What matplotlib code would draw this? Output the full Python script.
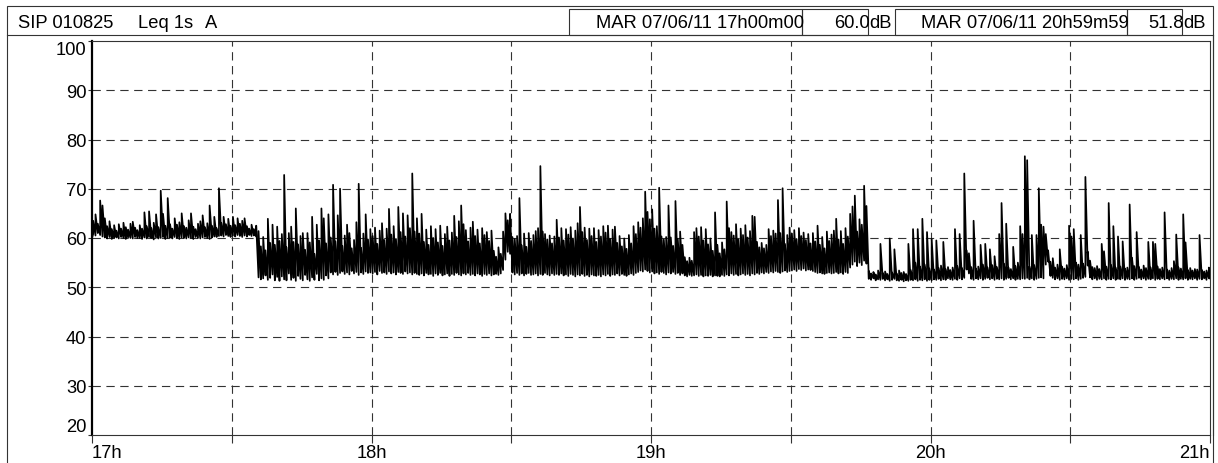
import numpy as np
import matplotlib
matplotlib.use("Agg")
import matplotlib.pyplot as plt
from matplotlib.patches import Rectangle
from matplotlib.lines import Line2D

W, H = 1218, 464
plt.rcParams["font.family"] = ["Liberation Sans", "DejaVu Sans"]
plt.rcParams["lines.scale_dashes"] = False
FS = 13.2

# header info
STATION = "SIP 010825"
MEASURE = "Leq 1s"
WEIGHT = "A"
START_STAMP = "MAR 07/06/11 17h00m00"
END_STAMP = "MAR 07/06/11 20h59m59"
START_LEVEL = 60.0
END_LEVEL = 51.8

# Leq 1s levels, min / max over 30 s bins starting 17h00 (dB(A))
BIN_MIN = 0.5
LEVEL_LO = [
    60.8, 60.5, 61.0, 60.6, 60.3, 60.1, 59.9, 60.2, 59.8, 60.0, 60.1, 59.9, 60.2, 60.0, 59.8, 60.1, 60.0, 59.9, 60.2, 60.0,
    60.0, 59.8, 60.1, 59.9, 60.2, 60.0, 59.7, 60.1, 59.9, 60.0, 60.2, 59.8, 60.0, 60.1, 59.9, 60.2, 60.0, 59.8, 60.1, 60.0,
    59.9, 60.1, 60.0, 59.8, 60.2, 60.0, 59.9, 60.1, 60.2, 60.0, 59.8, 60.1, 60.3, 60.2, 60.4, 60.5, 60.3, 60.6, 60.4, 60.2,
    60.5, 60.3, 60.6, 60.4, 60.2, 60.5, 60.3, 60.6, 60.4, 60.5, 60.3, 52.0, 51.6, 51.8, 52.4, 51.5, 51.9, 52.6, 51.4, 52.1,
    51.3, 52.2, 51.6, 51.4, 52.8, 51.5, 51.9, 51.3, 52.3, 51.7, 51.4, 52.5, 51.6, 51.3, 52.0, 51.5, 52.7, 51.4, 51.8, 51.5,
    52.4, 51.8, 53.0, 52.6, 53.1, 52.5, 52.9, 53.2, 52.7, 53.0, 52.6, 53.3, 52.8, 53.1, 52.5, 53.0, 52.7, 53.2, 52.9, 53.0,
    52.8, 53.1, 52.6, 53.3, 52.9, 53.0, 52.7, 53.2, 52.8, 53.0, 52.6, 53.1, 52.9, 52.7, 53.2, 52.8, 53.0, 52.6, 52.9, 52.7,
    52.5, 52.8, 52.4, 52.9, 52.6, 52.7, 52.3, 52.8, 52.5, 52.9, 52.4, 52.6, 52.8, 52.3, 52.7, 52.5, 52.9, 52.6, 52.4, 52.8,
    52.6, 52.9, 52.5, 52.7, 52.4, 52.8, 52.6, 52.3, 52.7, 52.5, 52.8, 52.4, 52.6, 52.7, 52.5, 52.8, 53.5, 55.6, 57.2, 56.8,
    53.0, 52.6, 52.9, 52.5, 52.8, 52.4, 52.7, 52.9, 52.5, 52.6, 52.8, 52.4, 52.7, 52.5, 52.9, 52.6, 52.4, 52.8, 52.5, 52.7,
    52.5, 52.8, 52.4, 52.6, 52.3, 52.7, 52.5, 52.2, 52.6, 52.4, 52.7, 52.3, 52.5, 52.2, 52.6, 52.4, 52.3, 52.5, 52.2, 52.6,
    52.4, 52.7, 52.3, 52.6, 52.5, 52.8, 52.4, 52.7, 52.5, 52.3, 52.6, 52.8, 52.5, 52.9, 53.1, 53.4, 53.2, 53.6, 53.3, 53.0,
    53.2, 52.8, 53.0, 52.7, 53.1, 52.9, 52.6, 53.0, 52.8, 53.1, 52.7, 52.9, 52.5, 52.8, 52.4, 52.2, 52.5, 52.3, 52.4, 52.6,
    52.3, 52.5, 52.2, 52.4, 52.3, 52.5, 52.2, 52.4, 52.3, 52.2, 52.5, 52.3, 52.6, 52.4, 52.8, 52.5, 52.7, 52.4, 52.6, 52.8,
    52.5, 52.7, 52.4, 52.8, 52.6, 52.9, 52.7, 53.0, 52.8, 53.1, 52.9, 53.2, 53.0, 53.3, 53.1, 52.9, 53.2, 53.4, 53.1, 53.3,
    53.4, 53.6, 53.3, 53.7, 53.5, 53.8, 53.4, 53.6, 53.5, 53.3, 53.1, 52.9, 53.0, 52.8, 52.7, 52.9, 53.0, 52.8, 52.9, 53.1,
    52.8, 53.0, 52.7, 53.1, 52.9, 54.0, 54.6, 55.2, 54.3, 55.0, 54.5, 55.4, 54.8, 51.7, 51.5, 51.8, 51.4, 51.6, 51.5, 51.7,
    51.4, 51.6, 51.3, 51.5, 51.7, 51.4, 51.3, 51.5, 51.2, 51.4, 51.3, 51.5, 51.4, 51.6, 51.3, 51.5, 51.4, 51.6, 51.3, 51.5,
    51.4, 51.6, 51.5, 51.7, 51.4, 51.6, 51.5, 51.8, 51.6, 51.5, 51.7, 51.5, 51.8, 51.6, 51.9, 53.6, 52.8, 51.7, 51.5, 51.8,
    51.6, 51.8, 51.5, 51.7, 51.9, 51.6, 51.8, 51.5, 51.7, 51.6, 51.8, 51.5, 51.7, 51.9, 51.6, 51.8, 51.5, 51.7, 51.6, 51.8,
    51.7, 51.9, 51.6, 51.8, 51.5, 51.7, 51.9, 52.0, 51.8, 54.6, 55.2, 52.3, 51.9, 51.6, 51.8, 51.5, 51.7, 51.6, 51.8, 51.5,
    51.7, 51.6, 51.8, 51.5, 51.7, 51.9, 52.1, 54.4, 52.0, 51.6, 51.8, 51.5, 51.7, 51.6, 51.8, 51.5, 51.7, 51.6, 51.8, 51.5,
    51.7, 51.6, 51.8, 51.5, 51.7, 51.6, 51.8, 51.5, 51.7, 51.9, 51.6, 51.8, 51.5, 51.7, 51.6, 51.8, 51.5, 51.7, 51.6, 51.8,
    51.6, 51.8, 51.5, 51.7, 51.6, 51.8, 51.5, 51.7, 51.6, 51.8, 51.5, 51.7, 51.6, 51.8, 51.5, 51.7, 51.6, 51.8, 51.5, 51.8,
]
LEVEL_HI = [
    63.5, 64.8, 62.9, 67.6, 66.6, 64.0, 62.4, 63.4, 61.8, 62.6, 61.5, 62.8, 61.9, 63.1, 62.2, 61.7, 62.9, 63.3, 62.1, 61.6,
    62.6, 61.9, 65.2, 62.4, 65.4, 62.0, 63.1, 64.8, 62.2, 69.6, 64.9, 62.5, 68.1, 62.8, 61.9, 64.0, 62.7, 63.2, 65.0, 62.4,
    62.1, 63.6, 65.0, 62.3, 61.8, 62.9, 63.4, 64.6, 62.2, 63.0, 66.6, 62.5, 64.3, 62.0, 70.1, 63.1, 64.3, 62.8, 63.9, 62.5,
    64.3, 62.6, 64.0, 62.9, 63.5, 64.0, 62.4, 61.9, 62.7, 61.8, 62.5, 61.4, 58.3, 60.2, 57.5, 63.9, 59.0, 62.7, 58.6, 62.3,
    59.4, 60.8, 72.8, 58.1, 61.0, 62.3, 59.2, 66.0, 58.7, 60.4, 61.0, 57.6, 61.0, 59.1, 64.3, 56.8, 62.7, 59.5, 66.0, 64.0,
    58.9, 64.8, 60.1, 70.8, 59.3, 64.6, 70.0, 58.4, 60.5, 62.7, 61.0, 57.9, 59.6, 63.2, 71.0, 58.0, 60.9, 64.8, 59.7, 61.8,
    60.4, 62.1, 58.8, 61.5, 63.0, 59.6, 61.9, 65.9, 60.7, 62.4, 59.8, 66.3, 61.2, 65.0, 60.3, 64.6, 62.0, 73.1, 61.3, 64.0,
    60.9, 64.9, 59.2, 61.7, 58.6, 62.4, 60.0, 61.8, 59.1, 62.5, 58.4, 60.8, 62.3, 59.5, 61.1, 64.5, 60.2, 63.4, 66.6, 62.8,
    61.6, 59.3, 62.1, 63.3, 60.4, 61.7, 58.9, 62.0, 60.6, 61.2, 59.4, 61.5, 57.4, 56.2, 58.1, 56.8, 61.3, 65.0, 63.6, 64.9,
    60.2, 59.8, 60.4, 68.1, 58.5, 60.9, 58.2, 61.0, 59.4, 60.6, 61.4, 62.0, 74.6, 61.3, 60.8, 59.7, 60.5, 58.9, 60.3, 63.7,
    60.1, 62.0, 59.5, 61.8, 60.7, 62.2, 59.9, 61.5, 63.0, 66.3, 61.2, 62.1, 59.6, 61.9, 60.4, 62.0, 59.2, 61.6, 60.3, 62.4,
    61.1, 62.5, 59.8, 61.7, 62.3, 59.0, 60.4, 58.3, 59.9, 57.8, 60.6, 58.9, 62.4, 60.8, 63.2, 62.1, 64.0, 69.4, 65.3, 63.8,
    65.8, 61.9, 62.4, 70.2, 60.3, 59.7, 60.2, 66.6, 60.1, 58.4, 67.5, 59.8, 61.3, 58.6, 56.1, 55.3, 56.0, 55.4, 61.2, 62.0,
    60.3, 62.2, 59.5, 61.8, 58.7, 59.9, 57.4, 65.2, 58.6, 56.9, 59.1, 57.7, 67.4, 62.0, 61.2, 60.5, 62.8, 59.7, 61.9, 60.6,
    62.6, 60.1, 61.4, 64.5, 64.3, 59.2, 58.1, 59.0, 57.9, 58.6, 61.8, 60.4, 61.5, 60.9, 67.7, 61.0, 70.1, 58.8, 60.6, 62.1,
    60.9, 61.6, 59.8, 62.0, 60.4, 61.1, 59.6, 60.8, 58.9, 61.0, 59.3, 62.5, 58.6, 60.2, 57.9, 61.3, 59.4, 60.7, 61.5, 63.9,
    59.7, 61.4, 58.8, 62.0, 60.3, 64.9, 66.4, 68.6, 61.3, 63.8, 62.7, 70.6, 66.5, 53.3, 52.8, 53.1, 52.6, 53.4, 58.8, 52.9,
    53.2, 52.7, 59.9, 53.0, 57.7, 52.8, 53.4, 52.9, 53.1, 52.7, 58.8, 53.5, 61.8, 55.0, 61.8, 54.2, 63.9, 54.6, 61.2, 53.8,
    59.8, 53.6, 59.5, 53.9, 54.4, 59.2, 53.7, 54.1, 53.5, 54.0, 61.8, 54.3, 60.8, 53.9, 73.1, 57.5, 56.9, 54.1, 63.5, 53.8,
    54.2, 58.6, 54.6, 58.8, 54.0, 57.7, 54.5, 56.3, 54.1, 60.8, 67.1, 54.8, 62.9, 54.0, 53.7, 58.2, 54.3, 55.0, 62.4, 60.8,
    76.6, 75.8, 54.2, 60.6, 54.5, 60.6, 70.1, 62.7, 62.3, 60.8, 57.5, 55.2, 55.9, 54.0, 54.6, 57.7, 54.2, 53.8, 54.5, 62.5,
    60.3, 61.8, 55.0, 54.6, 60.6, 54.8, 72.4, 57.2, 55.4, 54.1, 53.9, 54.3, 53.7, 58.8, 57.3, 54.2, 67.1, 54.5, 62.4, 54.0,
    60.3, 54.2, 59.3, 53.8, 54.0, 66.8, 56.0, 54.3, 61.2, 54.1, 53.6, 54.4, 53.9, 59.2, 54.0, 59.2, 58.8, 54.2, 53.7, 54.0,
    65.2, 53.6, 53.4, 53.9, 55.3, 60.7, 54.0, 53.8, 64.8, 59.1, 53.5, 53.9, 53.4, 53.7, 53.6, 60.6, 53.5, 53.2, 53.4, 54.0,
]

Y_TICKS = [20, 30, 40, 50, 60, 70, 80, 90, 100]
X_TICKS = [0, 60, 120, 180, 240]          # minutes after 17h
X_LABELS = ["17h", "18h", "19h", "20h", "21h"]
X_HALF = [30, 90, 150, 210]
END_MIN = 240 - 1 / 60                    # 20h59m59


def fx(x):
    return x / W


def fy(y):
    return 1 - y / H


fig = plt.figure(figsize=(W / 100, H / 100), dpi=100)
ax = fig.add_axes([fx(92), fy(436), (1210 - 92) / W, (436 - 42) / H])

# min/max envelope drawn as a zig-zag, starting and ending on the cursor values
lo = np.asarray(LEVEL_LO)
hi = np.asarray(LEVEL_HI)
t_bin = (np.arange(len(lo)) + 0.5) * BIN_MIN
t = np.concatenate([[0.0], np.repeat(t_bin, 2), [END_MIN]])
v = np.concatenate([[START_LEVEL], np.column_stack([lo, hi]).ravel(), [END_LEVEL]])
ax.plot(t, v, color="black", lw=1.25, zorder=3)

ax.set_xlim(0, 240)
ax.set_ylim(20, 100)
ax.set_yticks(Y_TICKS)
ax.set_xticks(X_TICKS)
ax.set_xticklabels(X_LABELS)
ax.set_xticks(X_HALF, minor=True)
ax.tick_params(axis="x", which="both", direction="out", length=5.5, width=0.8,
               color="#333333", labelsize=FS, pad=1)
ax.tick_params(axis="y", direction="out", length=3, width=0.8, color="#333333",
               labelsize=FS, pad=1)

for lab, ha in zip(ax.get_xticklabels(), ["left", "center", "center", "center", "right"]):
    lab.set_ha(ha)
for lab in ax.get_yticklabels():
    if lab.get_text() == "100":
        lab.set_va("top")
    elif lab.get_text() == "20":
        lab.set_va("bottom")

dash = (0, (6, 4))
for m in X_HALF + X_TICKS[1:-1]:
    ax.axvline(m, color="#333333", lw=0.8, ls=dash, zorder=1)
for y in Y_TICKS[1:-1]:
    ax.axhline(y, color="#333333", lw=0.8, ls=dash, zorder=1)

for side in ["top", "bottom", "right"]:
    ax.spines[side].set_linewidth(0.8)
    ax.spines[side].set_color("#333333")
ax.spines["left"].set_linewidth(1.6)
ax.spines["left"].set_color("black")

# outer frame and header boxes
lw_box = 0.8
fig.add_artist(Rectangle((fx(7), fy(470)), fx(1213 - 7), (470 - 7) / H, transform=fig.transFigure,
                         fill=False, lw=lw_box, ec="#333333"))
fig.add_artist(Line2D([fx(7), fx(1213)], [fy(36), fy(36)], transform=fig.transFigure,
                      lw=lw_box, color="#333333"))
fig.add_artist(Line2D([fx(1212.5), fx(1212.5)], [fy(36), fy(436)], transform=fig.transFigure,
                      lw=lw_box, color="#333333"))
for x0, x1 in [(569, 802), (802, 868), (895, 1127), (1127, 1182)]:
    fig.add_artist(Rectangle((fx(x0), fy(36)), fx(x1 - x0), (36 - 10) / H, transform=fig.transFigure,
                             fill=False, lw=lw_box, ec="#333333"))

ty = fy(23.5)
fig.text(fx(18), ty, STATION, fontsize=FS, va="center", ha="left")
fig.text(fx(138), ty, MEASURE, fontsize=FS, va="center", ha="left")
fig.text(fx(205), ty, WEIGHT, fontsize=FS, va="center", ha="left")
fig.text(fx(804), ty, START_STAMP, fontsize=FS, va="center", ha="right")
fig.text(fx(870), ty, f"{START_LEVEL:.1f}", fontsize=FS, va="center", ha="right")
fig.text(fx(869), ty, "dB", fontsize=FS, va="center", ha="left")
fig.text(fx(1129), ty, END_STAMP, fontsize=FS, va="center", ha="right")
fig.text(fx(1184), ty, f"{END_LEVEL:.1f}", fontsize=FS, va="center", ha="right")
fig.text(fx(1183), ty, "dB", fontsize=FS, va="center", ha="left")

fig.savefig("out.png", dpi=100)
